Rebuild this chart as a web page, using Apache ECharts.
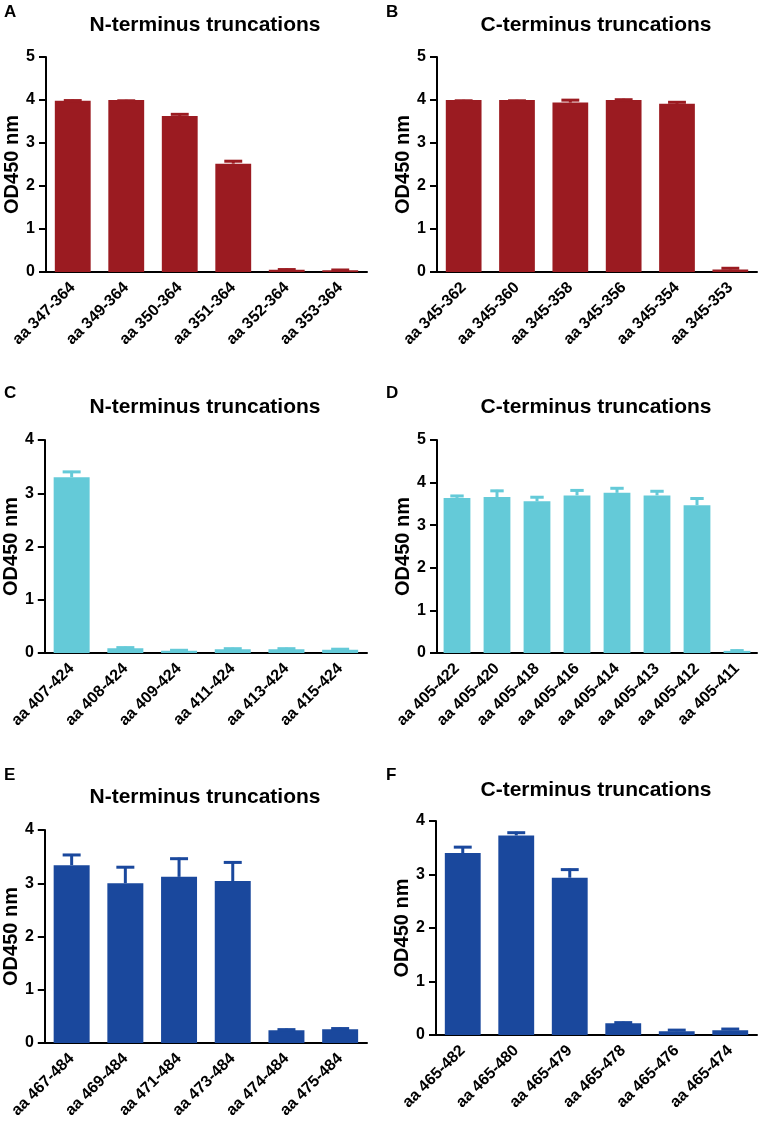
<!DOCTYPE html>
<html>
<head>
<meta charset="utf-8">
<script src="https://cdn.jsdelivr.net/npm/echarts@6/dist/echarts.min.js"></script>
<style>
html,body{margin:0;padding:0;background:#fff;}
#c{width:758px;height:1122px;}
</style>
</head>
<body>
<div id="c"></div>
<script>
// ---- data ----
const catsA = ['aa 347-364','aa 349-364','aa 350-364','aa 351-364','aa 352-364','aa 353-364'];
const valsA = [3.98, 4.00, 3.63, 2.52, 0.05, 0.04];
const errA  = [0.03, 0.005, 0.06, 0.08, 0.03, 0.03];

const catsB = ['aa 345-362','aa 345-360','aa 345-358','aa 345-356','aa 345-354','aa 345-353'];
const valsB = [4.00, 4.00, 3.94, 4.00, 3.91, 0.06];
const errB  = [0.005, 0.005, 0.08, 0.03, 0.06, 0.05];

const catsC = ['aa 407-424','aa 408-424','aa 409-424','aa 411-424','aa 413-424','aa 415-424'];
const valsC = [3.30, 0.09, 0.04, 0.07, 0.07, 0.06];
const errC  = [0.12, 0.03, 0.03, 0.03, 0.03, 0.03];

const catsD = ['aa 405-422','aa 405-420','aa 405-418','aa 405-416','aa 405-414','aa 405-413','aa 405-412','aa 405-411'];
const valsD = [3.64, 3.66, 3.56, 3.70, 3.76, 3.70, 3.47, 0.05];
const errD  = [0.07, 0.17, 0.12, 0.14, 0.13, 0.12, 0.18, 0.03];

const catsE = ['aa 467-484','aa 469-484','aa 471-484','aa 473-484','aa 474-484','aa 475-484'];
const valsE = [3.34, 3.00, 3.12, 3.04, 0.24, 0.26];
const errE  = [0.21, 0.32, 0.36, 0.37, 0.03, 0.03];

const catsF = ['aa 465-482','aa 465-480','aa 465-479','aa 465-478','aa 465-476','aa 465-474'];
const valsF = [3.40, 3.73, 2.94, 0.22, 0.07, 0.09];
const errF  = [0.13, 0.07, 0.17, 0.03, 0.04, 0.04];

const yMax = [5, 5, 4, 5, 4, 4];
const titles = ['N-terminus truncations','C-terminus truncations','N-terminus truncations','C-terminus truncations','N-terminus truncations','C-terminus truncations'];
const letters = ['A','B','C','D','E','F'];
const yName = 'OD450 nm';

// ---- layout / style ----
const RED = '#9b1b21', CYAN = '#64cad8', BLUE = '#1a489d';
const panels = [
  {cats: catsA, vals: valsA, err: errA, color: RED,  grid: {left: 46,  top: 57,  width: 321, height: 215}, tx: 205, ty: 15,  lx: 4,   ly: 4},
  {cats: catsB, vals: valsB, err: errB, color: RED,  grid: {left: 437, top: 57,  width: 320, height: 215}, tx: 596, ty: 15,  lx: 386, ly: 4},
  {cats: catsC, vals: valsC, err: errC, color: CYAN, grid: {left: 43,  top: 440, width: 324, height: 213}, tx: 205, ty: 397, lx: 4,   ly: 385},
  {cats: catsD, vals: valsD, err: errD, color: CYAN, grid: {left: 437, top: 440, width: 320, height: 213}, tx: 596, ty: 397, lx: 386, ly: 385},
  {cats: catsE, vals: valsE, err: errE, color: BLUE, grid: {left: 43,  top: 830, width: 324, height: 213}, tx: 205, ty: 787, lx: 4,   ly: 767},
  {cats: catsF, vals: valsF, err: errF, color: BLUE, grid: {left: 436, top: 821, width: 321, height: 214}, tx: 596, ty: 780, lx: 386, ly: 767}
];

const FONT = '"Liberation Sans", Arial, Helvetica, sans-serif';
const grids = [], xAxes = [], yAxes = [], series = [], graphics = [];

panels.forEach((p, i) => {
  grids.push(Object.assign({containLabel: false}, p.grid));
  xAxes.push({
    type: 'category', gridIndex: i, data: p.cats,
    axisLine: {lineStyle: {color: '#000', width: 2}},
    axisTick: {alignWithLabel: true, length: 7, lineStyle: {color: '#000', width: 2}},
    axisLabel: {rotate: 45, margin: 13, color: '#000', fontWeight: 'bold', fontSize: 16, fontFamily: FONT, interval: 0}
  });
  yAxes.push({
    type: 'value', gridIndex: i, min: 0, max: yMax[i], interval: 1,
    name: yName, nameLocation: 'middle', nameGap: 22,
    nameTextStyle: {color: '#000', fontWeight: 'bold', fontSize: 20, fontFamily: FONT},
    axisLine: {show: true, lineStyle: {color: '#000', width: 2}},
    axisTick: {show: true, length: 7, lineStyle: {color: '#000', width: 2}},
    splitLine: {show: false},
    axisLabel: {margin: 11, color: '#000', fontWeight: 'bold', fontSize: 16, fontFamily: FONT}
  });
  series.push({
    type: 'bar', xAxisIndex: i, yAxisIndex: i, data: p.vals,
    barCategoryGap: '33%',
    itemStyle: {color: p.color},
    z: 2
  });
  series.push({
    type: 'custom', xAxisIndex: i, yAxisIndex: i,
    data: p.vals.map((v, k) => [k, v, p.err[k]]),
    z: 3,
    renderItem: (function (col) {
      return function (params, api) {
        const k = api.value(0), v = api.value(1), e = api.value(2);
        const base = api.coord([k, v]);
        const top = api.coord([k, v + e]);
        const bw = api.size([1, 0])[0] * 0.67;
        const cw = bw * 0.5;
        return {
          type: 'group',
          children: [
            {type: 'line', shape: {x1: base[0], y1: base[1], x2: top[0], y2: top[1]}, style: {stroke: col, lineWidth: 3}},
            {type: 'line', shape: {x1: top[0] - cw / 2, y1: top[1] + 1, x2: top[0] + cw / 2, y2: top[1] + 1}, style: {stroke: col, lineWidth: 3}}
          ]
        };
      };
    })(p.color)
  });
  graphics.push({
    type: 'text', x: p.tx, y: p.ty,
    style: {text: titles[i], font: 'bold 21px ' + FONT, fill: '#000', textAlign: 'center', textVerticalAlign: 'top'}
  });
  graphics.push({
    type: 'text', x: p.lx, y: p.ly,
    style: {text: letters[i], font: 'bold 17px ' + FONT, fill: '#000', textVerticalAlign: 'top'}
  });
});

const chart = echarts.init(document.getElementById('c'), null, {renderer: 'canvas'});
chart.setOption({
  backgroundColor: '#fff',
  animation: false,
  grid: grids,
  xAxis: xAxes,
  yAxis: yAxes,
  series: series,
  graphic: graphics
});
</script>
</body>
</html>
